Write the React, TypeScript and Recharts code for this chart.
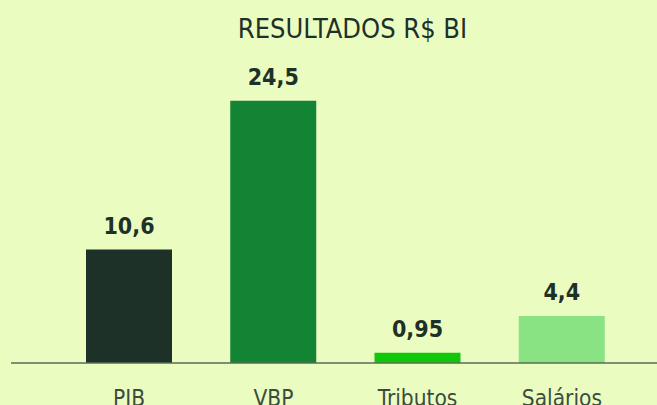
import type React from 'react';
import { BarChart, Bar, XAxis, YAxis, Cell, LabelList } from 'recharts';

// Resultados em R$ bilhões
const categories = ['PIB', 'VBP', 'Tributos', 'Salários'];
const values = [10.6, 24.5, 0.95, 4.4];
const valueLabels = ['10,6', '24,5', '0,95', '4,4'];
const barColors = ['#1e3129', '#138334', '#10c80a', '#8ae383'];

const data = categories.map((name, i) => ({
  name,
  value: values[i],
  label: valueLabels[i],
}));

const FONT = '"DejaVu Sans Condensed", "DejaVu Sans", sans-serif';

const App: React.FC = () => {
  return (
    <div
      style={{
        position: 'absolute',
        top: 0,
        left: 0,
        width: 657,
        height: 405,
        background: '#ebfcc1',
        overflow: 'hidden',
        fontFamily: FONT,
      }}
    >
      <div
        style={{
          position: 'absolute',
          top: 13,
          left: 200,
          width: 305,
          textAlign: 'center',
          fontSize: 27,
          color: '#1e3129',
          lineHeight: '32px',
        }}
      >
        RESULTADOS R$ BI
      </div>
      <BarChart
        width={657}
        height={405}
        data={data}
        margin={{ top: 42, right: 0, bottom: 0, left: 11 }}
        barSize={86}
      >
        <YAxis hide domain={[0, 30]} />
        <XAxis
          dataKey="name"
          height={42}
          padding={{ left: 46, right: 23 }}
          tickLine={false}
          tickMargin={21}
          axisLine={{ stroke: '#5b6b57', strokeWidth: 1.5 }}
          tick={{ fill: '#3b4c3f', fontSize: 22.5, fontFamily: FONT }}
          interval={0}
        />
        <Bar dataKey="value" isAnimationActive={false}>
          {data.map((d, i) => (
            <Cell key={d.name} fill={barColors[i]} />
          ))}
          <LabelList
            dataKey="label"
            position="top"
            offset={16}
            style={{
              fill: '#1e3129',
              fontSize: 23,
              fontWeight: 'bold',
              fontFamily: FONT,
            }}
          />
        </Bar>
      </BarChart>
    </div>
  );
};

export default App;
